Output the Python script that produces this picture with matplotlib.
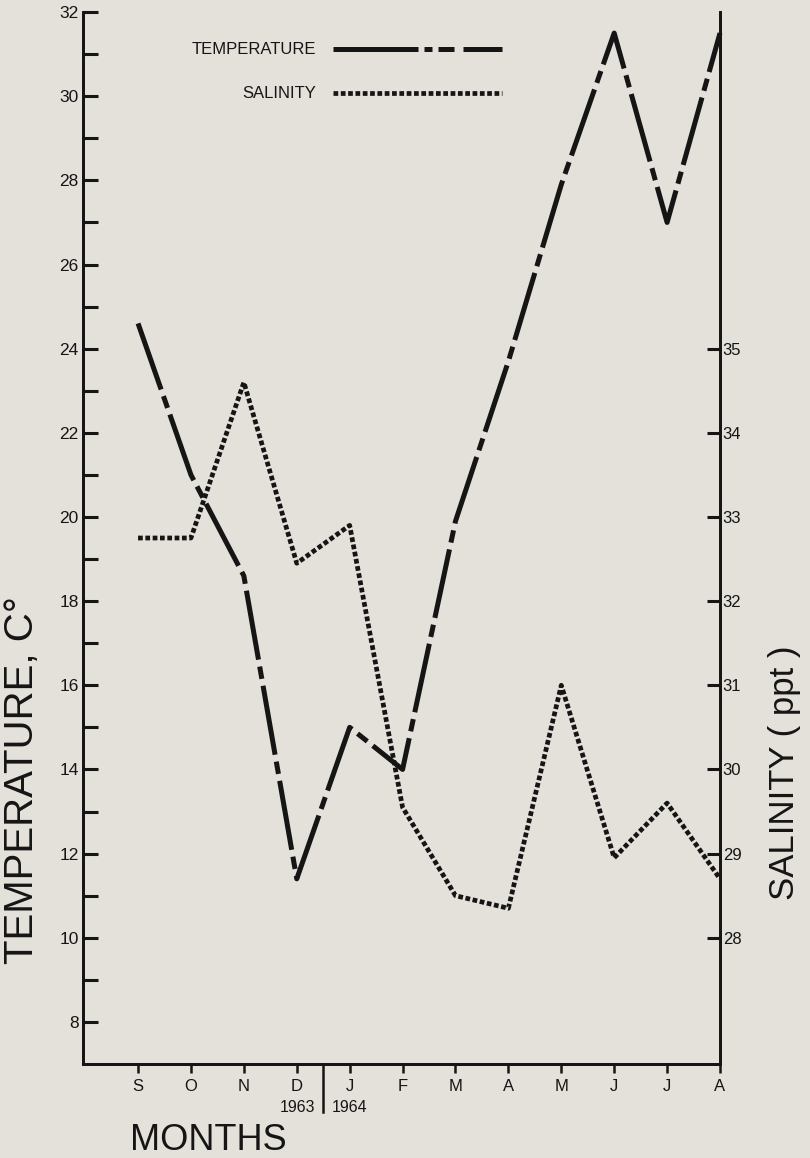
import matplotlib
matplotlib.use('Agg')
import matplotlib.pyplot as plt
import matplotlib.transforms as mtransforms
from matplotlib.lines import Line2D

plt.rcParams['font.family'] = ['Liberation Sans', 'DejaVu Sans']

months = ['S', 'O', 'N', 'D', 'J', 'F', 'M', 'A', 'M', 'J', 'J', 'A']
temperature = [24.6, 21.0, 18.6, 11.4, 15.0, 14.0, 19.9, 23.7, 27.9, 31.5, 27.0, 31.5]
salinity = [32.75, 32.75, 34.6, 32.45, 32.9, 29.55, 28.5, 28.35, 31.0, 28.95, 29.6, 28.7]
temp_ticks = list(range(8, 33))
temp_labels = [str(t) if t % 2 == 0 else '' for t in temp_ticks]
sal_ticks = list(range(28, 36))
years = ['1963', '1964']

ink = '#151515'
paper = '#e4e0da'

fig = plt.figure(figsize=(8.1, 11.58), dpi=100, facecolor=paper)
ax = fig.add_axes([0.1025, 0.0812, 0.7864, 0.9084])
ax.set_facecolor(paper)
ax2 = ax.twinx()

x = list(range(len(months)))

temp_dash = (0, (14, 1.4, 2.5, 1.4))
sal_dash = (0, (1.0, 0.55))

ax.plot(x, temperature, color=ink, lw=3.6, linestyle=temp_dash,
        solid_capstyle='butt', dash_capstyle='butt', clip_on=False)
ax2.plot(x, salinity, color=ink, lw=3.4, linestyle=sal_dash,
         dash_capstyle='butt', clip_on=False)

ax.set_xlim(-1.04, 11)
ax.set_ylim(7, 32)
ax2.set_ylim(26.5, 39)

for a in (ax, ax2):
    a.spines['top'].set_visible(False)
    for s in ('left', 'right', 'bottom'):
        a.spines[s].set_linewidth(2.0)
        a.spines[s].set_color(ink)

ax.set_yticks(temp_ticks)
ax.set_yticklabels(temp_labels)
ax.tick_params(axis='y', direction='in', length=11, width=2.2, pad=3,
               labelsize=12.5, colors=ink)
ax.set_xticks(x)
ax.set_xticklabels(months)
ax.tick_params(axis='x', direction='out', length=6.5, width=1.8, pad=4,
               labelsize=12, colors=ink)

ax2.set_yticks(sal_ticks)
ax2.tick_params(axis='y', direction='in', length=9.5, width=2.2, pad=2,
                labelsize=12, colors=ink)

# year separator between D and J
trans = mtransforms.blended_transform_factory(ax.transData, ax.transAxes)
ax.plot([3.5, 3.5], [0, -0.046], transform=trans, color=ink, lw=1.8,
        clip_on=False)
ax.text(3.5 - 0.15, -0.041, years[0], transform=trans, ha='right',
        va='center', fontsize=11.5, color=ink)
ax.text(3.5 + 0.17, -0.041, years[1], transform=trans, ha='left',
        va='center', fontsize=11.5, color=ink)

# axis titles
fig.text(0.027, 0.326, 'TEMPERATURE, C°', rotation=90, ha='center',
         va='center', fontsize=29, color=ink)
fig.text(0.969, 0.333, 'SALINITY ( ppt )', rotation=90, ha='center',
         va='center', fontsize=25, color=ink)
fig.text(0.160, 0.015, 'MONTHS', ha='left', va='center', fontsize=26,
         color=ink)

# legend
ax.add_line(Line2D([0.392, 0.658], [0.9648, 0.9648], transform=ax.transAxes,
                   color=ink, lw=3.6, linestyle=(0, (17, 1.2, 1.6, 1.2, 3.2, 1.8, 8)),
                   dash_capstyle='butt'))
ax.add_line(Line2D([0.392, 0.658], [0.923, 0.923], transform=ax.transAxes,
                   color=ink, lw=3.4, linestyle=sal_dash, dash_capstyle='butt'))
ax.text(0.366, 0.9648, 'TEMPERATURE', transform=ax.transAxes, ha='right',
        va='center', fontsize=12, color=ink)
ax.text(0.366, 0.923, 'SALINITY', transform=ax.transAxes, ha='right',
        va='center', fontsize=12, color=ink)

fig.savefig('out.png', dpi=100, facecolor=paper)
